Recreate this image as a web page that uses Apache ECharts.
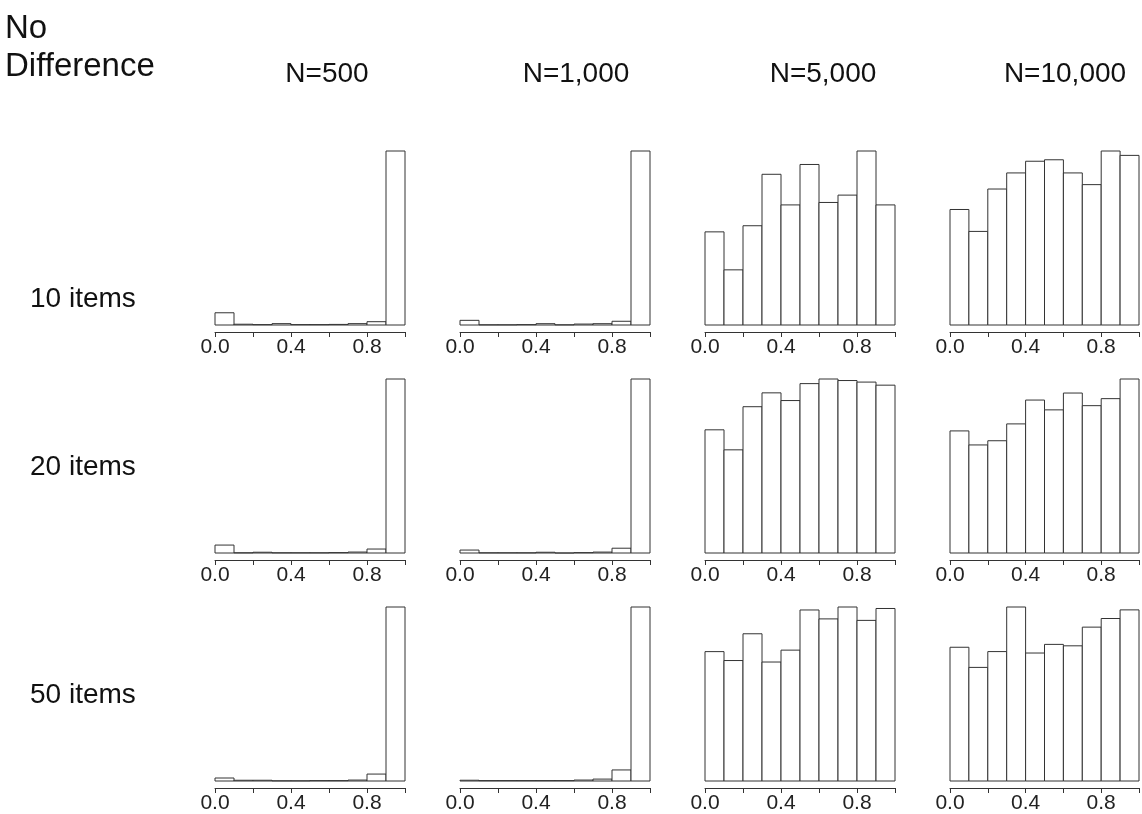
<!DOCTYPE html>
<html>
<head>
<meta charset="utf-8">
<title>No Difference – p-value histograms</title>
<script src="https://cdn.jsdelivr.net/npm/echarts@6/dist/echarts.min.js"></script>
<style>
  html, body { margin: 0; padding: 0; background: #fff; }
  #chart { width: 1142px; height: 814px; }
</style>
</head>
<body>
<div id="chart"></div>
<script>
// Histogram bin edges (10 bins on [0, 1])
const binEdges = [0, 0.1, 0.2, 0.3, 0.4, 0.5, 0.6, 0.7, 0.8, 0.9, 1.0];

// Panel headings
const columnLabels = ['N=500', 'N=1,000', 'N=5,000', 'N=10,000'];
const rowLabels = ['10 items', '20 items', '50 items'];
const tickLabels = ['0.0', '0.4', '0.8'];

// Frequencies per bin (1000 replications per panel)
const items10_n500   = [63, 4, 2, 7, 2, 2, 3, 7, 17, 896];
const items10_n1000  = [25, 1, 1, 2, 7, 1, 5, 7, 20, 934];
const items10_n5000  = [76, 45, 81, 123, 98, 131, 100, 106, 142, 98];
const items10_n10000 = [79, 64, 93, 104, 112, 113, 104, 96, 119, 116];

const items20_n500   = [42, 1, 4, 1, 1, 1, 2, 5, 21, 922];
const items20_n1000  = [16, 1, 1, 1, 4, 0, 2, 5, 26, 944];
const items20_n5000  = [80, 67, 95, 104, 99, 110, 113, 112, 111, 109];
const items20_n10000 = [87, 77, 80, 92, 109, 102, 114, 105, 110, 124];

const items50_n500   = [16, 4, 4, 1, 1, 2, 2, 5, 37, 928];
const items50_n1000  = [4, 2, 2, 2, 2, 2, 5, 10, 58, 913];
const items50_n5000  = [87, 81, 99, 80, 88, 115, 109, 117, 108, 116];
const items50_n10000 = [93, 79, 90, 121, 89, 95, 94, 107, 113, 119];

const panels = [
  [items10_n500, items10_n1000, items10_n5000, items10_n10000],
  [items20_n500, items20_n1000, items20_n5000, items20_n10000],
  [items50_n500, items50_n1000, items50_n5000, items50_n10000]
];

// Layout
const colLeft = [215, 460, 705, 950];
const panelWidth = 190;
const rowTop = [151, 379, 607];
const panelHeight = 174;
const titleCenterX = [327, 576, 823, 1065];
const rowLabelY = [299, 467, 695];

const FONT = '"Liberation Sans", Arial, Helvetica, sans-serif';
const EDGE = '#333';

const grids = [], xAxes = [], yAxes = [], series = [];

panels.forEach((row, r) => {
  row.forEach((counts, c) => {
    const idx = grids.length;
    grids.push({
      left: colLeft[c], top: rowTop[r],
      width: panelWidth, height: panelHeight,
      containLabel: false
    });
    xAxes.push({
      gridIndex: idx, type: 'value', min: 0, max: 1, interval: 0.2,
      offset: 7,
      axisLine: { show: true, onZero: false, lineStyle: { color: EDGE, width: 1 } },
      axisTick: { show: true, length: 5, lineStyle: { color: EDGE, width: 1 } },
      splitLine: { show: false },
      axisLabel: {
        show: true, margin: 5, color: '#222', fontSize: 21, fontFamily: FONT,
        hideOverlap: false, showMinLabel: true, showMaxLabel: true,
        formatter: v => {
          const s = v.toFixed(1);
          return tickLabels.indexOf(s) >= 0 ? s : '';
        }
      }
    });
    yAxes.push({
      gridIndex: idx, type: 'value', min: 0, max: Math.max(...counts),
      show: false, splitLine: { show: false }
    });
    series.push({
      type: 'custom',
      xAxisIndex: idx, yAxisIndex: idx,
      silent: true,
      encode: { x: [0, 1], y: 2 },
      data: counts.map((n, i) => [binEdges[i], binEdges[i + 1], n]),
      renderItem: (params, api) => {
        const p0 = api.coord([api.value(0), api.value(2)]);
        const p1 = api.coord([api.value(1), 0]);
        return {
          type: 'rect',
          shape: { x: p0[0], y: p0[1], width: p1[0] - p0[0], height: p1[1] - p0[1] },
          style: { fill: '#fff', stroke: EDGE, lineWidth: 1 }
        };
      }
    });
  });
});

const graphics = [];
graphics.push({
  type: 'text', left: 5, top: 10,
  style: { text: 'No\nDifference', fontSize: 33, lineHeight: 38, fontFamily: FONT, fill: '#111' }
});
columnLabels.forEach((t, c) => {
  graphics.push({
    type: 'text', x: titleCenterX[c], y: 74,
    style: { text: t, fontSize: 28, fontFamily: FONT, fill: '#111', align: 'center', verticalAlign: 'middle' }
  });
});
rowLabels.forEach((t, r) => {
  graphics.push({
    type: 'text', x: 30, y: rowLabelY[r],
    style: { text: t, fontSize: 28, fontFamily: FONT, fill: '#111', align: 'left', verticalAlign: 'middle' }
  });
});

const chart = echarts.init(document.getElementById('chart'), null, { renderer: 'canvas' });
chart.setOption({
  animation: false,
  backgroundColor: '#fff',
  grid: grids,
  xAxis: xAxes,
  yAxis: yAxes,
  series: series,
  graphic: graphics
});
</script>
</body>
</html>
